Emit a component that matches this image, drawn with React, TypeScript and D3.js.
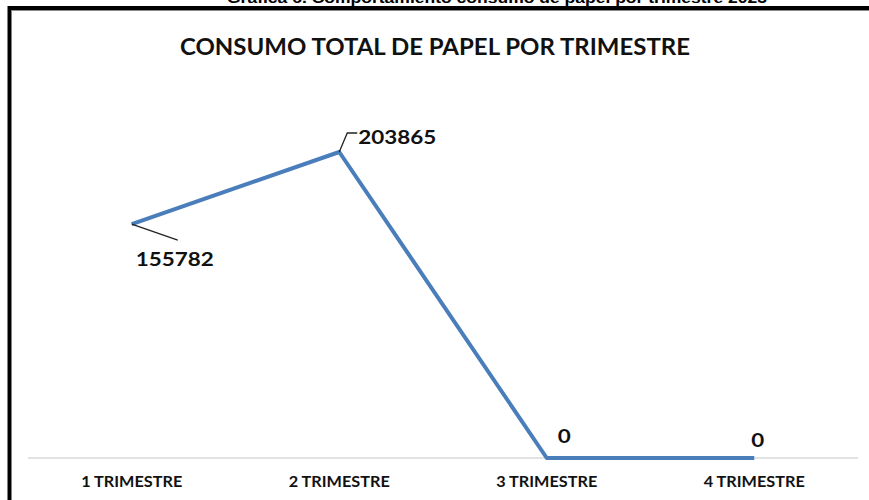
import React from "react";
import * as d3 from "d3";

const categories = ["1 TRIMESTRE", "2 TRIMESTRE", "3 TRIMESTRE", "4 TRIMESTRE"];
const values = [155782, 203865, 0, 0];
const pageTitle = "Gráfica 6. Comportamiento consumo de papel por trimestre 2023";
const chartTitle = "CONSUMO TOTAL DE PAPEL POR TRIMESTRE";

const W = 869;
const H = 500;

export default function App() {
  const x = d3.scaleBand<string>().domain(categories).range([28, 858]);
  const y = d3.scaleLinear().domain([0, 203865]).range([458, 152]);
  const cx = (c: string) => (x(c) ?? 0) + x.bandwidth() / 2;
  const pts = categories.map((c, i) => [cx(c), y(values[i])] as [number, number]);
  const line = d3.line()(pts) ?? "";
  const font = "Lato, 'Open Sans', 'DejaVu Sans', sans-serif";

  const labels = [
    { leader: [[0, 0], [46, 16]], tx: 4, ty: 42 },
    { leader: [[0, 0], [8, -19], [18, -19]], tx: 19, ty: -8 },
    { leader: null, tx: 11, ty: -15 },
    { leader: null, tx: -3, ty: -11 },
  ];

  return (
    <svg width={W} height={H} style={{ position: "absolute", left: 0, top: 0, background: "#fff" }}>
      <text x={497} y={3} textAnchor="middle" fontFamily="'Liberation Sans', Arial, sans-serif" fontWeight="bold" fontSize={15} textLength={540} lengthAdjust="spacingAndGlyphs" fill="#000">
        {pageTitle}
      </text>
      <rect x={9.5} y={8} width={900} height={520} fill="#fff" stroke="#000" strokeWidth={4} />
      <line x1={11.5} y1={10.5} x2={869} y2={10.5} stroke="#888" strokeWidth={1} />
      <text x={435} y={55} textAnchor="middle" fontFamily={font} fontWeight="bold" fontSize={22} textLength={510} lengthAdjust="spacingAndGlyphs" fill="#111">
        {chartTitle}
      </text>
      <line x1={28} x2={858} y1={458} y2={458} stroke="#d9d9d9" strokeWidth={1.5} />
      <path d={line} fill="none" stroke="#4a7ebb" strokeWidth={4} strokeLinejoin="round" />
      {pts.map((p, i) => {
        const l = labels[i];
        const s = String(values[i]);
        return (
          <g key={i}>
            {l.leader && (
              <polyline
                points={l.leader.map((q) => `${p[0] + q[0]},${p[1] + q[1]}`).join(" ")}
                fill="none"
                stroke="#222"
                strokeWidth={1.3}
              />
            )}
            <text
              x={p[0] + l.tx}
              y={p[1] + l.ty}
              fontFamily={font}
              fontWeight="bold"
              fontSize={19}
              textLength={s.length * 13}
              lengthAdjust="spacingAndGlyphs"
              fill="#111"
            >
              {s}
            </text>
          </g>
        );
      })}
      {categories.map((c) => (
        <text key={c} x={cx(c)} y={487} textAnchor="middle" fontFamily={font} fontWeight="bold" fontSize={15} textLength={101} lengthAdjust="spacingAndGlyphs" fill="#111">
          {c}
        </text>
      ))}
    </svg>
  );
}
